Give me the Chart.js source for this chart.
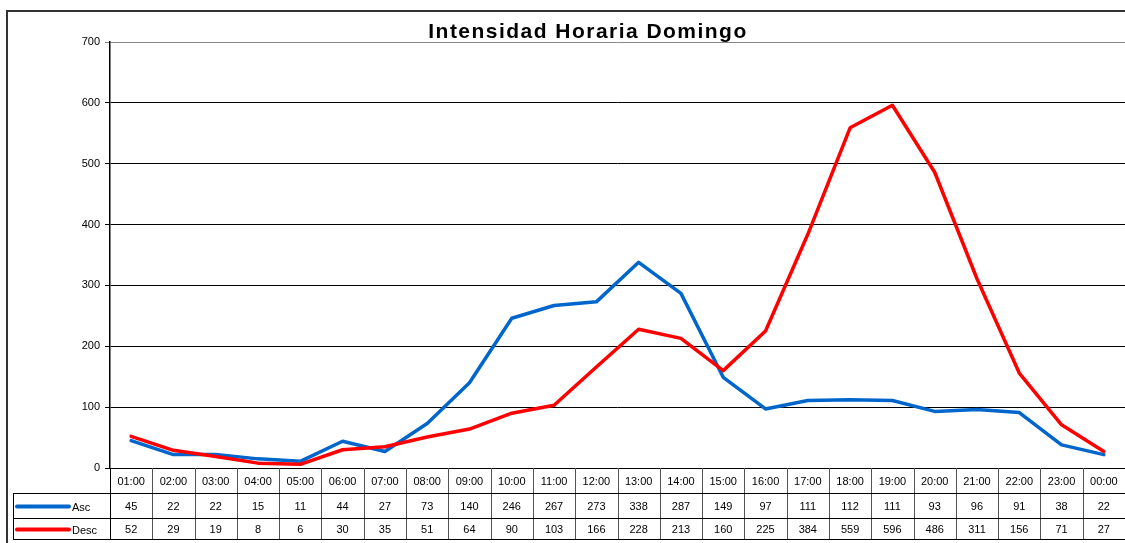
<!DOCTYPE html>
<html>
<head>
<meta charset="utf-8">
<script src="https://cdn.jsdelivr.net/npm/chart.js@4.4.1/dist/chart.umd.min.js"></script>
<style>
  body { margin: 0; background: #fff; overflow: hidden; }
  canvas { display: block; }
</style>
</head>
<body>
<canvas id="chart" width="1125" height="543"></canvas>
<script>
// Hours shown along the bottom / data table header
const hours = ['01:00', '02:00', '03:00', '04:00', '05:00', '06:00', '07:00', '08:00', '09:00', '10:00', '11:00', '12:00',
               '13:00', '14:00', '15:00', '16:00', '17:00', '18:00', '19:00', '20:00', '21:00', '22:00', '23:00', '00:00'];
const ascValues = [45, 22, 22, 15, 11, 44, 27, 73, 140, 246, 267, 273, 338, 287, 149, 97, 111, 112, 111, 93, 96, 91, 38, 22];
const descValues = [52, 29, 19, 8, 6, 30, 35, 51, 64, 90, 103, 166, 228, 213, 160, 225, 384, 559, 596, 486, 311, 156, 71, 27];
const chartTitle = 'Intensidad Horaria Domingo';

const FONT = 'Arial, "Liberation Sans", sans-serif';

// Draws the frame, the title and the data table under the plot
const tablePlugin = {
    id: 'dataTable',
    afterDraw(chart) {
        const ctx = chart.ctx;
        const area = chart.chartArea;
        const xScale = chart.scales.x;
        const colW = (area.right - area.left) / hours.length;
        const legendLeft = 13;
        const rowTop = area.bottom;
        const rows = [rowTop, rowTop + 25, rowTop + 50, rowTop + 71];

        ctx.save();

        // outer frame
        ctx.strokeStyle = '#333';
        ctx.lineWidth = 2;
        ctx.beginPath();
        ctx.moveTo(7, 543);
        ctx.lineTo(7, 11);
        ctx.lineTo(1125, 11);
        ctx.stroke();

        // title
        ctx.fillStyle = '#000';
        ctx.font = 'bold 21px ' + FONT;
        ctx.textAlign = 'center';
        ctx.textBaseline = 'alphabetic';
        const w = ctx.measureText(chartTitle).width;
        if (w < 318) ctx.letterSpacing = ((318 - w) / (chartTitle.length - 1)).toFixed(2) + 'px';
        ctx.fillText(chartTitle, 588, 38);
        ctx.letterSpacing = '0px';

        // column separators
        ctx.lineWidth = 1;
        ctx.strokeStyle = '#555';
        for (let i = 1; i < hours.length; i++) {
            const x = Math.round(area.left + i * colW) + 0.5;
            ctx.beginPath();
            ctx.moveTo(x, rows[0]);
            ctx.lineTo(x, rows[3]);
            ctx.stroke();
        }

        // horizontal rules and outer lines of the table
        ctx.strokeStyle = '#000';
        ctx.beginPath();
        ctx.moveTo(legendLeft, rows[1] + 0.5); ctx.lineTo(area.right, rows[1] + 0.5);
        ctx.moveTo(legendLeft, rows[2] + 0.5); ctx.lineTo(area.right, rows[2] + 0.5);
        ctx.moveTo(legendLeft, rows[3] + 0.5); ctx.lineTo(area.right, rows[3] + 0.5);
        ctx.moveTo(legendLeft + 0.5, rows[1]); ctx.lineTo(legendLeft + 0.5, rows[3]);
        ctx.moveTo(area.left + 0.5, rows[0]); ctx.lineTo(area.left + 0.5, rows[3]);
        ctx.stroke();

        // cell texts
        ctx.font = '11px ' + FONT;
        ctx.textAlign = 'center';
        ctx.textBaseline = 'middle';
        ctx.fillStyle = '#000';
        hours.forEach((h, i) => {
            const x = xScale.getPixelForValue(i);
            ctx.fillText(h, x, (rows[0] + rows[1]) / 2 + 1);
            ctx.fillText(String(ascValues[i]), x, (rows[1] + rows[2]) / 2 + 1);
            ctx.fillText(String(descValues[i]), x, (rows[2] + rows[3]) / 2 + 1);
        });

        // legend keys inside the table
        const keys = [
            { label: 'Asc', color: '#0066CC', y: (rows[1] + rows[2]) / 2 + 1 },
            { label: 'Desc', color: '#FF0000', y: (rows[2] + rows[3]) / 2 + 1 }
        ];
        ctx.lineWidth = 4;
        ctx.lineCap = 'round';
        ctx.textAlign = 'left';
        keys.forEach(k => {
            ctx.strokeStyle = k.color;
            ctx.beginPath();
            ctx.moveTo(17, k.y);
            ctx.lineTo(69, k.y);
            ctx.stroke();
            ctx.fillText(k.label, 72, k.y + 1);
        });

        ctx.restore();
    }
};

new Chart(document.getElementById('chart'), {
    type: 'line',
    data: {
        labels: hours,
        datasets: [
            {
                label: 'Asc',
                data: ascValues,
                borderColor: '#0066CC',
                borderWidth: 3.5,
                pointRadius: 0,
                tension: 0,
                borderJoinStyle: 'round',
                borderCapStyle: 'round',
                order: 1
            },
            {
                label: 'Desc',
                data: descValues,
                borderColor: '#FF0000',
                borderWidth: 3.5,
                pointRadius: 0,
                tension: 0,
                borderJoinStyle: 'round',
                borderCapStyle: 'round',
                order: 0
            }
        ]
    },
    options: {
        responsive: false,
        animation: false,
        devicePixelRatio: 1,
        layout: { padding: { top: 42, bottom: 75, left: 0, right: 0 } },
        plugins: {
            legend: { display: false },
            title: { display: false },
            tooltip: { enabled: false }
        },
        scales: {
            x: {
                type: 'category',
                offset: true,
                display: false
            },
            y: {
                min: 0,
                max: 700,
                ticks: {
                    stepSize: 100,
                    color: '#000',
                    padding: 5,
                    font: { family: FONT, size: 11 }
                },
                grid: {
                    color: ctx => (ctx.tick && ctx.tick.value === 700) ? '#888' : '#000',
                    tickLength: 5,
                    lineWidth: 1
                },
                border: { display: true, color: '#000', width: 1.5 },
                afterFit(scale) { scale.width = 110; }
            }
        }
    },
    plugins: [tablePlugin]
});
</script>
</body>
</html>
